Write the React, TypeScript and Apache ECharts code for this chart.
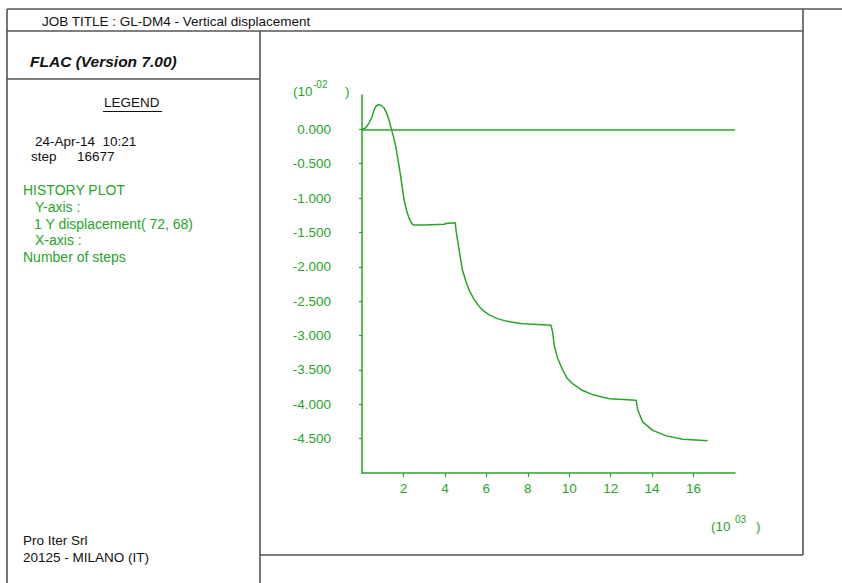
import React, { useEffect, useRef } from "react";
import * as echarts from "echarts";

// History record: number of steps (x 10^3) and Y displacement (x 10^-2)
const stepsK: number[] = [
  0, 0.17, 0.34, 0.48, 0.58, 0.68, 0.79, 0.92, 1.07, 1.18, 1.28, 1.42, 1.53,
  1.63, 1.75, 1.87, 1.95, 2.03, 2.15, 2.28, 2.38, 2.47, 3.0, 3.97, 4.05, 4.5,
  4.53, 4.61, 4.72, 4.85, 5.0, 5.17, 5.4, 5.66, 5.9, 6.14, 6.5, 6.95, 7.75,
  8.5, 9.12, 9.2, 9.28, 9.44, 9.68, 9.9, 10.16, 10.65, 11.13, 11.94, 12.6,
  13.23, 13.3, 13.55, 14.03, 14.68, 15.48, 16.1, 16.677,
];
const yDisp: number[] = [
  0, 0.02, 0.09, 0.18, 0.28, 0.34, 0.36, 0.35, 0.31, 0.24, 0.16, 0, -0.12,
  -0.25, -0.47, -0.69, -0.86, -1.03, -1.18, -1.3, -1.36, -1.39, -1.39, -1.38,
  -1.37, -1.36, -1.45, -1.61, -1.82, -2.05, -2.2, -2.34, -2.47, -2.58, -2.65,
  -2.7, -2.75, -2.79, -2.83, -2.84, -2.85, -2.95, -3.15, -3.33, -3.5, -3.62,
  -3.7, -3.8, -3.86, -3.92, -3.93, -3.94, -4.08, -4.26, -4.38, -4.46, -4.51,
  -4.52, -4.53,
];

const xTickValues: number[] = [2, 4, 6, 8, 10, 12, 14, 16];
const yTickValues: number[] = [0, -0.5, -1, -1.5, -2, -2.5, -3, -3.5, -4, -4.5];

const jobTitle = "JOB TITLE : GL-DM4 - Vertical displacement";
const programName = "FLAC (Version 7.00)";
const legendTitle = "LEGEND";
const dateLine = "24-Apr-14  10:21";
const stepLabel = "step";
const stepValue = "16677";
const historyLines: { text: string; x: number; y: number }[] = [
  { text: "HISTORY PLOT", x: 23, y: 190 },
  { text: "Y-axis :", x: 35, y: 207 },
  { text: "1 Y displacement( 72, 68)", x: 34, y: 223.5 },
  { text: "X-axis :", x: 35, y: 240 },
  { text: "Number of steps", x: 23, y: 257 },
];
const companyLines: string[] = ["Pro Iter Srl", "20125 - MILANO (IT)"];

const GREEN = "#28a428";
const FRAME = "#555555";
const FONT = "'Liberation Sans', Arial, sans-serif";
const FS = 13.5;

function frameLine(x1: number, y1: number, x2: number, y2: number) {
  return {
    type: "line",
    shape: { x1, y1, x2, y2 },
    style: { stroke: FRAME, lineWidth: 1.6 },
    silent: true,
  };
}

function label(
  text: string,
  x: number,
  y: number,
  color: string,
  extra: Record<string, unknown> = {}
) {
  return {
    type: "text",
    x,
    y,
    silent: true,
    style: {
      text,
      fill: color,
      font: `${FS}px ${FONT}`,
      textAlign: "left",
      textVerticalAlign: "middle",
      ...extra,
    },
  };
}

export default function App() {
  const ref = useRef<HTMLDivElement>(null);

  useEffect(() => {
    if (!ref.current) return;
    const chart = echarts.init(ref.current, undefined, { renderer: "svg" });

    const graphic: any[] = [
      // panel frame
      frameLine(7, 9, 842, 9),
      frameLine(7, 31, 803, 31),
      frameLine(7, 9, 7, 583),
      frameLine(803, 9, 803, 555),
      frameLine(260, 31, 260, 583),
      frameLine(7, 79, 260, 79),
      frameLine(260, 555, 803, 555),
      // header and legend texts
      label(jobTitle, 42, 21, "#111"),
      label(programName, 30, 61, "#111", {
        font: `italic bold 15.5px ${FONT}`,
      }),
      label(legendTitle, 104, 102, "#111"),
      {
        type: "line",
        shape: { x1: 103, y1: 111.5, x2: 162, y2: 111.5 },
        style: { stroke: "#111", lineWidth: 1 },
        silent: true,
      },
      label(dateLine, 35, 141, "#111"),
      label(stepLabel, 31, 156, "#111"),
      label(stepValue, 77, 156, "#111"),
      ...historyLines.map((l) =>
        label(l.text, l.x, l.y, GREEN, { font: `14px ${FONT}` })
      ),
      label(companyLines[0], 23, 540, "#111"),
      label(companyLines[1], 23, 557, "#111"),
      // axis scale factors
      label("(10", 293, 91, GREEN),
      label("-02", 313, 84, GREEN, { font: `10px ${FONT}` }),
      label(")", 345, 91, GREEN),
      label("(10", 711, 526, GREEN),
      label("03", 735, 519, GREEN, { font: `10px ${FONT}` }),
      label(")", 756, 526, GREEN),
    ];

    const points = stepsK.map((x, i) => [x, yDisp[i]]);

    chart.setOption({
      animation: false,
      backgroundColor: "#ffffff",
      grid: { left: 362, right: 107, top: 95, bottom: 110 },
      xAxis: {
        type: "value",
        min: 0,
        max: 18,
        interval: 2,
        axisLine: {
          show: true,
          onZero: false,
          lineStyle: { color: GREEN, width: 1.5 },
        },
        axisTick: {
          show: true,
          length: 4,
          customValues: xTickValues,
          lineStyle: { color: GREEN, width: 1.2 },
        },
        axisLabel: {
          customValues: xTickValues,
          color: GREEN,
          fontSize: FS,
          fontFamily: FONT,
          margin: 8,
        },
        splitLine: { show: false },
      },
      yAxis: {
        type: "value",
        min: -5,
        max: 0.5,
        interval: 0.5,
        axisLine: {
          show: true,
          onZero: false,
          lineStyle: { color: GREEN, width: 1.5 },
        },
        axisTick: {
          show: true,
          length: 3,
          customValues: yTickValues,
          lineStyle: { color: GREEN, width: 1.2 },
        },
        axisLabel: {
          customValues: yTickValues,
          color: GREEN,
          fontSize: FS,
          fontFamily: FONT,
          margin: 31,
          formatter: (v: number) => v.toFixed(3),
        },
        splitLine: { show: false },
      },
      series: [
        {
          type: "line",
          data: points,
          showSymbol: false,
          smooth: false,
          lineStyle: { color: GREEN, width: 1.5 },
          markLine: {
            silent: true,
            symbol: ["none", "none"],
            label: { show: false },
            lineStyle: { color: GREEN, width: 1.5, type: "solid" },
            data: [{ yAxis: 0 }],
          },
        },
      ],
      graphic,
    });

    return () => chart.dispose();
  }, []);

  return (
    <div
      ref={ref}
      style={{
        position: "fixed",
        left: 0,
        top: 0,
        width: 842,
        height: 583,
        background: "#ffffff",
      }}
    />
  );
}
